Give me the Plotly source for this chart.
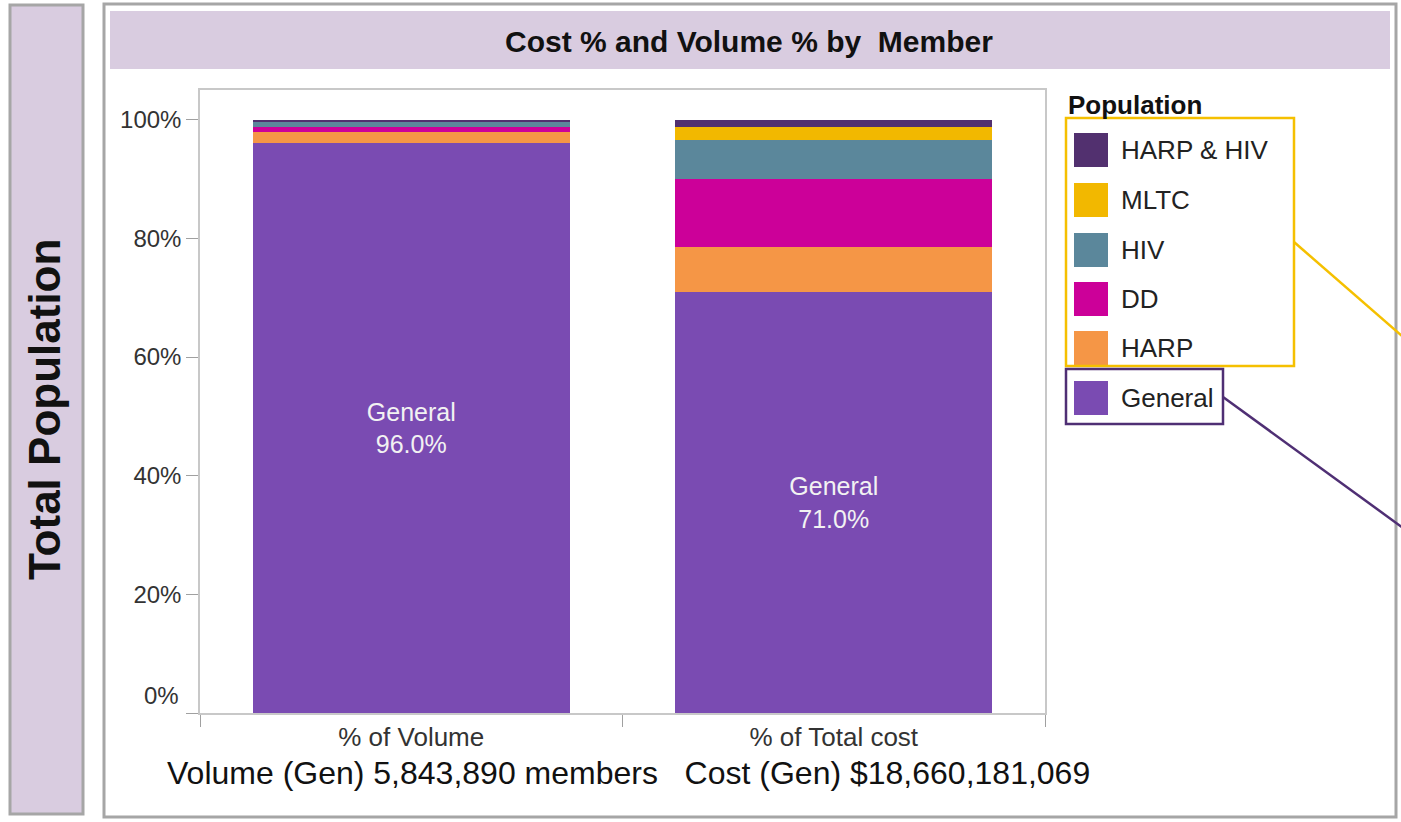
import plotly.graph_objects as go

# categories on the x axis
measures = ['% of Volume', '% of Total cost']

# population shares (%) for each measure, stacked bottom -> top
general = [96.0, 71.0]
harp = [2.0, 7.6]
dd = [0.8, 11.4]
hiv = [0.9, 6.6]
mltc = [0.0, 2.1]
harp_hiv = [0.3, 1.3]

series = ['General', 'HARP', 'DD', 'HIV', 'MLTC', 'HARP & HIV']
values = [general, harp, dd, hiv, mltc, harp_hiv]
colors = ['#7A4BB2', '#F59646', '#CC0099', '#5B879B', '#F2B800', '#52306F']

y_ticks = [0, 20, 40, 60, 80, 100]
footer = 'Volume (Gen) 5,843,890 members\u00a0\u00a0\u00a0Cost (Gen) $18,660,181,069'

FONT = 'Arial, Liberation Sans, sans-serif'
LAV = '#D9CCE0'
W, H = 1401, 822
L, R, T, B = 200, 1045, 90, 713  # plot area in pixels


def px(x):
    return (x - L) / (R - L)


def py(y):
    return (B - y) / (B - T)


fig = go.Figure()
for name, vals, col in zip(series, values, colors):
    text = [f'{name}<br>{v:.1f}%' for v in vals] if name == 'General' else None
    fig.add_trace(go.Bar(
        x=measures, y=vals, name=name, marker_color=col,
        marker_line_width=0, width=0.75, showlegend=False,
        text=text, textposition='inside', insidetextanchor='middle',
        textangle=0, constraintext='none',
        textfont=dict(family=FONT, size=25, color='#F2F2F2'),
        hoverinfo='name+y'
    ))

shapes = [
    # left header panel
    dict(type='rect', x0=px(10), x1=px(83), y0=py(5), y1=py(814),
         fillcolor=LAV, line=dict(color='#A6A6A6', width=3), layer='below'),
    # main panel frame
    dict(type='rect', x0=px(104), x1=px(1396), y0=py(4), y1=py(817),
         fillcolor='rgba(0,0,0,0)', line=dict(color='#A6A6A6', width=3), layer='below'),
    # title band
    dict(type='rect', x0=px(110), x1=px(1390), y0=py(11), y1=py(69),
         fillcolor=LAV, line=dict(width=0), layer='below'),
]
annotations = [
    dict(text='<b>Total Population</b>', x=px(45), y=py(410), textangle=-90,
         font=dict(family=FONT, size=44, color='#111111')),
    dict(text='<b>Cost % and Volume % by\u00a0\u00a0Member</b>', x=px(749), y=py(42),
         font=dict(family=FONT, size=30, color='#111111')),
    dict(text='0%', x=px(181), y=py(695), xanchor='right',
         font=dict(family=FONT, size=24, color='#333333')),
    dict(text=footer, x=px(628), y=py(773),
         font=dict(family=FONT, size=32, color='#111111')),
    dict(text='<b>Population</b>', x=px(1066), y=py(105), xanchor='left',
         font=dict(family=FONT, size=26, color='#111111')),
]

# legend, top entry first
row_y = [150, 200, 250, 299, 348, 398]
for (name, col), yc in zip(list(zip(series, colors))[::-1], row_y):
    shapes.append(dict(type='rect', x0=px(1074), x1=px(1108), y0=py(yc + 17), y1=py(yc - 17),
                       fillcolor=col, line=dict(width=0)))
    annotations.append(dict(text=name, x=px(1119), y=py(yc), xanchor='left',
                            font=dict(family=FONT, size=26, color='#222222')))

# highlight boxes and call-out lines
shapes += [
    dict(type='rect', x0=px(1066), x1=px(1294), y0=py(118), y1=py(366),
         line=dict(color='#F5C000', width=2.5)),
    dict(type='line', x0=px(1294), x1=px(1410), y0=py(242), y1=py(343),
         line=dict(color='#F5C000', width=2.5)),
    dict(type='rect', x0=px(1066), x1=px(1223), y0=py(369), y1=py(424),
         line=dict(color='#4F2F74', width=2.5)),
    dict(type='line', x0=px(1223), x1=px(1410), y0=py(397), y1=py(533),
         line=dict(color='#4F2F74', width=2.5)),
]
for a in annotations:
    a.update(xref='paper', yref='paper', showarrow=False)
    a.setdefault('xanchor', 'center')
    a.setdefault('yanchor', 'middle')
for s in shapes:
    s.update(xref='paper', yref='paper')

fig.update_layout(
    width=W, height=H, barmode='stack',
    margin=dict(l=L, r=W - R, t=T, b=H - B, pad=0),
    paper_bgcolor='white', plot_bgcolor='white',
    font=dict(family=FONT, color='#333333'),
    shapes=shapes, annotations=annotations,
)
fig.update_xaxes(
    showline=True, linecolor='#C8C8C8', linewidth=1.5, mirror=True,
    ticks='outside', tickson='boundaries', ticklen=12, tickcolor='#A0A0A0',
    tickfont=dict(family=FONT, size=26, color='#333333'), showgrid=False,
)
fig.update_yaxes(
    range=[0, 105], showline=True, linecolor='#C8C8C8', linewidth=1.5, mirror=True,
    tickvals=y_ticks, ticktext=['' if v == 0 else f'{v}%' for v in y_ticks],
    ticks='outside', ticklen=12, tickcolor='#A0A0A0',
    tickfont=dict(family=FONT, size=24, color='#333333'), showgrid=False, zeroline=False,
)

# drop the default page margin so the figure sits at the window's top-left
fig.write_html('out.html', config={'displayModeBar': False},
               post_script="document.body.style.margin = '0';")
